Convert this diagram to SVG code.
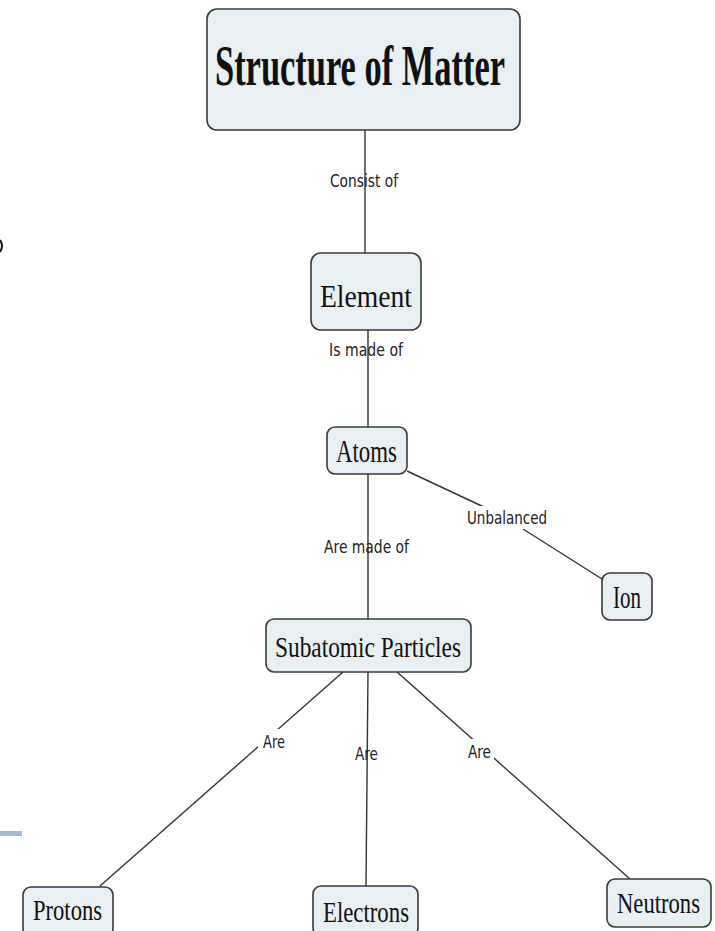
<svg xmlns="http://www.w3.org/2000/svg" width="715" height="931" viewBox="0 0 715 931">
<style>
.node rect{fill:#e9f0f3;stroke:#3a3a3a;stroke-width:1.6}
.nt{font-family:"Liberation Serif","Times New Roman",serif;fill:#111;text-anchor:start}
.lbl{font-family:"DejaVu Sans","Liberation Sans",sans-serif;font-size:17.5px;fill:#222}
.conn line{stroke:#333;stroke-width:1.4}
</style>
<rect x="0" y="831" width="22" height="5" fill="#a7b9cf"/>
<path d="M0,240 Q4,246 0,252" fill="none" stroke="#111" stroke-width="2"/>
<g id="connectors" class="conn">
<line x1="365" y1="130" x2="365" y2="253"/>
<line x1="368" y1="330" x2="368" y2="427"/>
<line x1="368" y1="474" x2="368" y2="619"/>
<line x1="407" y1="471" x2="486" y2="508"/>
<line x1="523" y1="529" x2="602" y2="579"/>
<line x1="343" y1="672" x2="100" y2="886"/>
<line x1="368" y1="672" x2="366" y2="886"/>
<line x1="397" y1="672" x2="630" y2="879"/>
</g>
<g id="labels">
<text class="lbl" x="330" y="187" textLength="68" lengthAdjust="spacingAndGlyphs">Consist of</text>
<text class="lbl" x="329" y="356" textLength="74" lengthAdjust="spacingAndGlyphs">Is made of</text>
<text class="lbl" x="324" y="553" textLength="85" lengthAdjust="spacingAndGlyphs">Are made of</text>
<rect x="464" y="506" width="86" height="23" fill="#fff"/>
<text class="lbl" x="467" y="524" textLength="80" lengthAdjust="spacingAndGlyphs">Unbalanced</text>
<rect x="258" y="729" width="30" height="23" fill="#fff"/>
<text class="lbl" x="263" y="748" textLength="22" lengthAdjust="spacingAndGlyphs">Are</text>
<text class="lbl" x="355" y="760" textLength="23" lengthAdjust="spacingAndGlyphs">Are</text>
<rect x="465" y="739" width="29" height="23" fill="#fff"/>
<text class="lbl" x="468" y="758" textLength="23" lengthAdjust="spacingAndGlyphs">Are</text>
</g>
<g id="structure" class="node">
<rect x="207" y="9" width="313" height="121" rx="10"/>
<text class="nt" x="215" y="85" font-size="56" font-weight="bold" textLength="290" lengthAdjust="spacingAndGlyphs">Structure of Matter</text>
</g>
<g id="element" class="node">
<rect x="311" y="253" width="110" height="77" rx="10"/>
<text class="nt" x="320" y="307" font-size="32" textLength="92" lengthAdjust="spacingAndGlyphs">Element</text>
</g>
<g id="atoms" class="node">
<rect x="327" y="427" width="80" height="47" rx="8"/>
<text class="nt" x="336" y="462" font-size="31" textLength="61" lengthAdjust="spacingAndGlyphs">Atoms</text>
</g>
<g id="ion" class="node">
<rect x="602" y="573" width="50" height="47" rx="8"/>
<text class="nt" x="613" y="608" font-size="32" textLength="28" lengthAdjust="spacingAndGlyphs">Ion</text>
</g>
<g id="subatomic" class="node">
<rect x="266" y="619" width="205" height="53" rx="8"/>
<text class="nt" x="275" y="657" font-size="30" textLength="186" lengthAdjust="spacingAndGlyphs">Subatomic Particles</text>
</g>
<g id="protons" class="node">
<rect x="23" y="887" width="90" height="50" rx="8"/>
<text class="nt" x="33" y="920" font-size="30" textLength="69" lengthAdjust="spacingAndGlyphs">Protons</text>
</g>
<g id="electrons" class="node">
<rect x="313" y="886" width="105" height="50" rx="8"/>
<text class="nt" x="323" y="922" font-size="30" textLength="86" lengthAdjust="spacingAndGlyphs">Electrons</text>
</g>
<g id="neutrons" class="node">
<rect x="607" y="879" width="104" height="48" rx="8"/>
<text class="nt" x="617" y="913" font-size="29" textLength="83" lengthAdjust="spacingAndGlyphs">Neutrons</text>
</g>
</svg>
